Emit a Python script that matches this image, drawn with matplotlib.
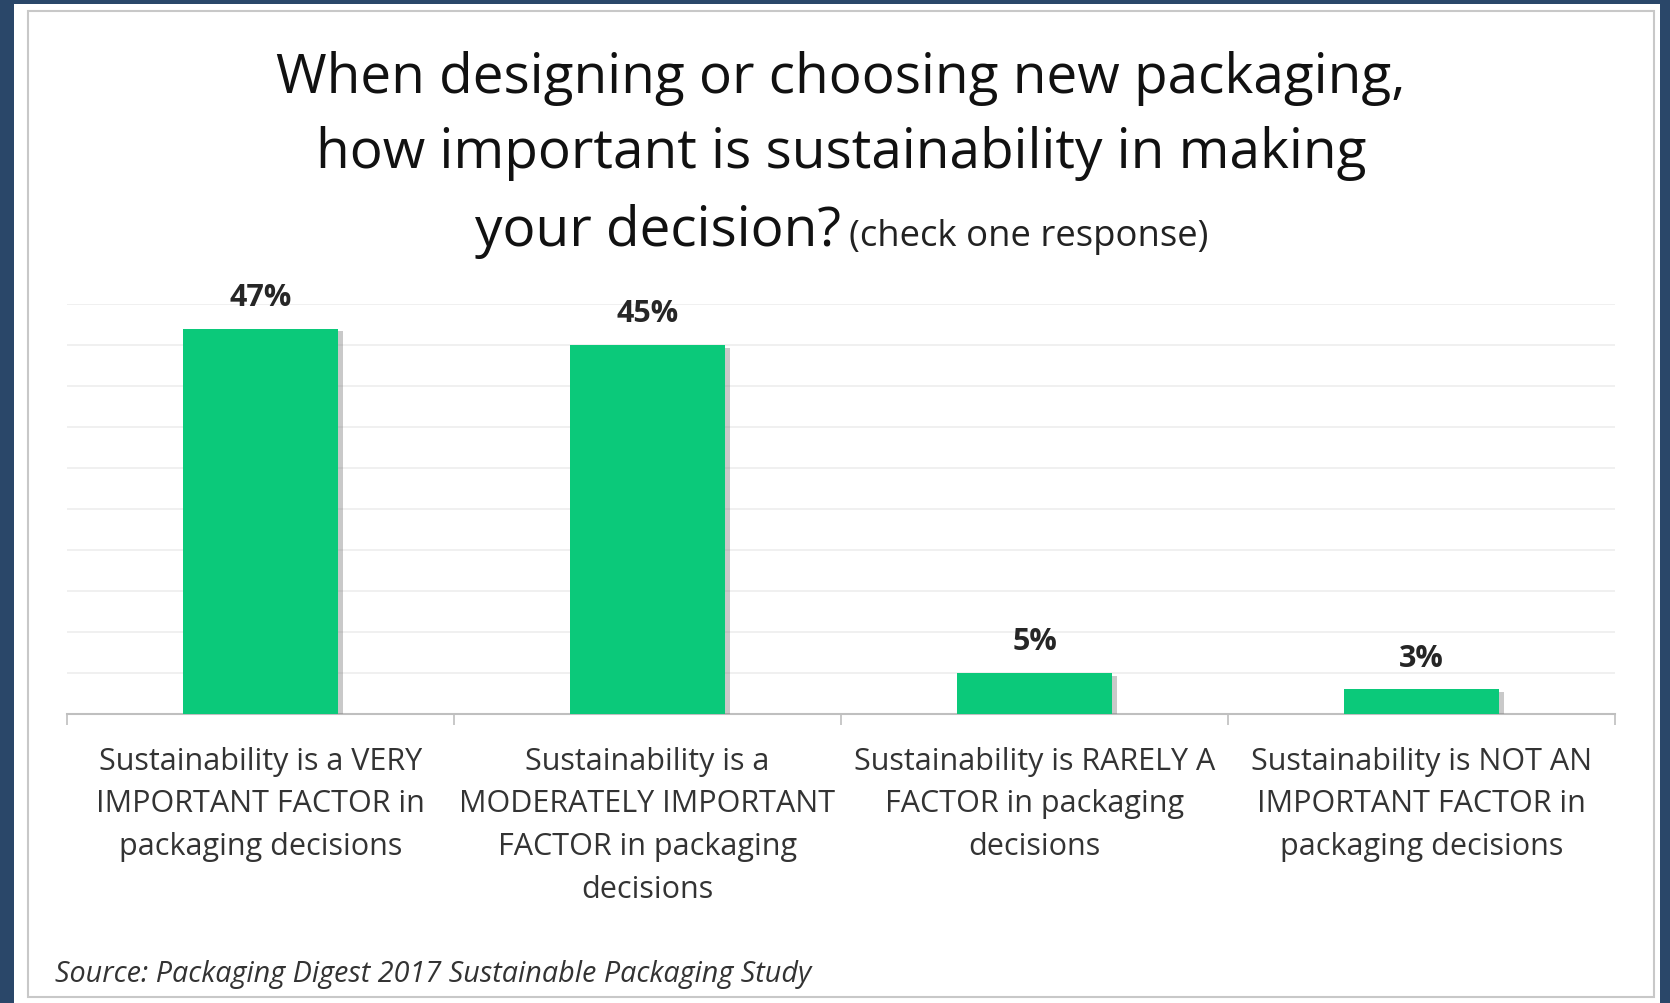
import matplotlib.pyplot as plt
from matplotlib import patheffects as pe
from matplotlib.patches import Rectangle

categories = [
    "Sustainability is a VERY\nIMPORTANT FACTOR in\npackaging decisions",
    "Sustainability is a\nMODERATELY IMPORTANT\nFACTOR in packaging\ndecisions",
    "Sustainability is RARELY A\nFACTOR in packaging\ndecisions",
    "Sustainability is NOT AN\nIMPORTANT FACTOR in\npackaging decisions",
]
values = [47, 45, 5, 3]
value_labels = ["47%", "45%", "5%", "3%"]
y_ticks = [0, 5, 10, 15, 20, 25, 30, 35, 40, 45, 50]

W, H = 1670, 1004
FONT = "Open Sans"
GREEN = "#0BC97A"

plt.rcParams['font.family'] = [FONT, 'DejaVu Sans']

fig = plt.figure(figsize=(W / 100, H / 100), dpi=100)
fig.patch.set_facecolor("#2A4769")

# white panel with thin grey frame (behind the axes)
fig.patches.append(Rectangle((14 / W, 0), (1660 - 14) / W, (H - 5) / H,
                             transform=fig.transFigure, facecolor="white",
                             edgecolor="none", zorder=-2))
fig.patches.append(Rectangle((28 / W, 6 / H), (1654 - 28) / W, (995 - 9) / H,
                             transform=fig.transFigure, facecolor="none",
                             edgecolor="#C8C8C8", linewidth=1.5, zorder=-1))

ax = fig.add_axes([67 / W, (H - 715) / H, 1548 / W, 410 / H])
ax.set_facecolor("none")

x = list(range(len(values)))
bars = ax.bar(x, values, width=0.4, color=GREEN, zorder=3)
for b in bars:
    b.set_path_effects([pe.SimplePatchShadow(offset=(4, -2), shadow_rgbFace="#7A7A7A", alpha=0.4),
                        pe.Normal()])

for xi, v, lab in zip(x, values, value_labels):
    ax.annotate(lab, (xi, v), xytext=(0, 17), textcoords="offset points",
                ha="center", va="baseline", fontsize=22, fontweight="bold",
                color="#262626")

ax.set_ylim(0, 50)
ax.set_xlim(-0.5, len(values) - 0.5)
ax.set_yticks(y_ticks)
ax.yaxis.grid(True, color="#EEEEEE", linewidth=1.2, zorder=0)
ax.tick_params(axis="y", length=0, labelleft=False)

ax.set_xticks([i - 0.5 for i in range(len(values) + 1)])
ax.set_xticklabels([])
ax.tick_params(axis="x", length=8, width=1.2, color="#BFBFBF", direction="out")
for s in ["top", "right", "left"]:
    ax.spines[s].set_visible(False)
ax.spines["bottom"].set_color("#BFBFBF")
ax.spines["bottom"].set_linewidth(1.5)

for xi, cat in zip(x, categories):
    ax.text(xi, -0.077, cat, transform=ax.get_xaxis_transform(), ha="center",
            va="top", fontsize=22, color="#333333", linespacing=1.56)

# title
fig.text(841 / W, 1 - 93 / H, "When designing or choosing new packaging,",
         ha="center", va="baseline", fontsize=39.5, color="#111111")
fig.text(841 / W, 1 - 168 / H, "how important is sustainability in making",
         ha="center", va="baseline", fontsize=39.5, color="#111111")
fig.text(841 / W, 1 - 246 / H, "your decision?",
         ha="right", va="baseline", fontsize=39.5, color="#111111")
fig.text(849 / W, 1 - 246 / H, "(check one response)",
         ha="left", va="baseline", fontsize=26.3, color="#222222")

fig.text(55 / W, 1 - 982 / H, "Source: Packaging Digest 2017 Sustainable Packaging Study",
         ha="left", va="baseline", fontsize=20.7, style="italic", color="#333333")

fig.savefig("out.png", dpi=100, facecolor=fig.get_facecolor())
